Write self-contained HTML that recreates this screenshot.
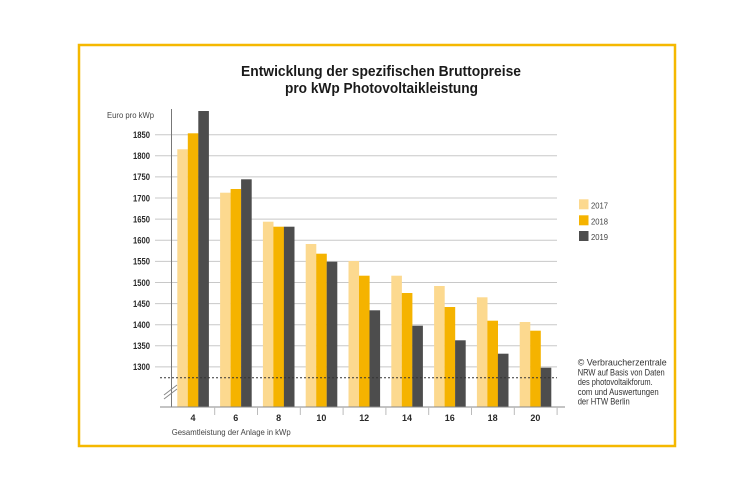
<!DOCTYPE html>
<html><head><meta charset="utf-8"><style>
html,body{margin:0;padding:0;background:#fff;}
svg{display:block;}
text{font-family:"Liberation Sans",sans-serif;}
</style></head><body>
<svg width="750" height="482" viewBox="0 0 750 482" xmlns="http://www.w3.org/2000/svg">
<rect x="0" y="0" width="750" height="482" fill="#fff"/>
<rect x="79" y="45" width="596" height="401" fill="none" stroke="#f5b800" stroke-width="2.5"/>
<text x="381" y="76" text-anchor="middle" font-size="15" font-weight="bold" fill="#1a1a1a" textLength="280" lengthAdjust="spacingAndGlyphs">Entwicklung der spezifischen Bruttopreise</text>
<text x="381.5" y="93" text-anchor="middle" font-size="15" font-weight="bold" fill="#1a1a1a" textLength="193" lengthAdjust="spacingAndGlyphs">pro kWp Photovoltaikleistung</text>
<text x="107" y="118" font-size="8" fill="#444" textLength="47" lengthAdjust="spacingAndGlyphs">Euro pro kWp</text>
<g stroke="#c8c8c8" stroke-width="1">
<line x1="155" y1="134.7" x2="557" y2="134.7"/>
<line x1="155" y1="155.8" x2="557" y2="155.8"/>
<line x1="155" y1="176.9" x2="557" y2="176.9"/>
<line x1="155" y1="198.0" x2="557" y2="198.0"/>
<line x1="155" y1="219.1" x2="557" y2="219.1"/>
<line x1="155" y1="240.3" x2="557" y2="240.3"/>
<line x1="155" y1="261.4" x2="557" y2="261.4"/>
<line x1="155" y1="282.5" x2="557" y2="282.5"/>
<line x1="155" y1="303.6" x2="557" y2="303.6"/>
<line x1="155" y1="324.7" x2="557" y2="324.7"/>
<line x1="155" y1="345.8" x2="557" y2="345.8"/>
<line x1="155" y1="366.9" x2="557" y2="366.9"/>
</g>
<g font-size="9" font-weight="bold" fill="#2a2a2a" text-anchor="end">
<text x="150" y="138" textLength="17" lengthAdjust="spacingAndGlyphs">1850</text>
<text x="150" y="159.1" textLength="17" lengthAdjust="spacingAndGlyphs">1800</text>
<text x="150" y="180.2" textLength="17" lengthAdjust="spacingAndGlyphs">1750</text>
<text x="150" y="201.3" textLength="17" lengthAdjust="spacingAndGlyphs">1700</text>
<text x="150" y="222.4" textLength="17" lengthAdjust="spacingAndGlyphs">1650</text>
<text x="150" y="243.6" textLength="17" lengthAdjust="spacingAndGlyphs">1600</text>
<text x="150" y="264.7" textLength="17" lengthAdjust="spacingAndGlyphs">1550</text>
<text x="150" y="285.8" textLength="17" lengthAdjust="spacingAndGlyphs">1500</text>
<text x="150" y="306.9" textLength="17" lengthAdjust="spacingAndGlyphs">1450</text>
<text x="150" y="328.0" textLength="17" lengthAdjust="spacingAndGlyphs">1400</text>
<text x="150" y="349.1" textLength="17" lengthAdjust="spacingAndGlyphs">1350</text>
<text x="150" y="370.2" textLength="17" lengthAdjust="spacingAndGlyphs">1300</text>
</g>
<!-- bars -->
<g>
<rect x="177.3" y="149.3" width="10.6" height="257.7" fill="#fcd98f"/>
<rect x="187.8" y="133.3" width="10.6" height="273.7" fill="#f5b300"/>
<rect x="198.3" y="111" width="10.6" height="296" fill="#4d4d4d"/>

<rect x="220.1" y="192.7" width="10.6" height="214.3" fill="#fcd98f"/>
<rect x="230.6" y="189" width="10.6" height="218" fill="#f5b300"/>
<rect x="241.1" y="179.3" width="10.6" height="227.7" fill="#4d4d4d"/>

<rect x="262.9" y="221.7" width="10.6" height="185.3" fill="#fcd98f"/>
<rect x="273.4" y="226.7" width="10.6" height="180.3" fill="#f5b300"/>
<rect x="283.9" y="226.7" width="10.6" height="180.3" fill="#4d4d4d"/>

<rect x="305.7" y="244" width="10.6" height="163" fill="#fcd98f"/>
<rect x="316.2" y="253.7" width="10.6" height="153.3" fill="#f5b300"/>
<rect x="326.7" y="261.7" width="10.6" height="145.3" fill="#4d4d4d"/>

<rect x="348.5" y="261" width="10.6" height="146" fill="#fcd98f"/>
<rect x="359" y="275.7" width="10.6" height="131.3" fill="#f5b300"/>
<rect x="369.5" y="310.3" width="10.6" height="96.7" fill="#4d4d4d"/>

<rect x="391.3" y="275.7" width="10.6" height="131.3" fill="#fcd98f"/>
<rect x="401.8" y="293" width="10.6" height="114" fill="#f5b300"/>
<rect x="412.3" y="325.7" width="10.6" height="81.3" fill="#4d4d4d"/>

<rect x="434.1" y="286" width="10.6" height="121" fill="#fcd98f"/>
<rect x="444.6" y="307" width="10.6" height="100" fill="#f5b300"/>
<rect x="455.1" y="340.3" width="10.6" height="66.7" fill="#4d4d4d"/>

<rect x="476.9" y="297.3" width="10.6" height="109.7" fill="#fcd98f"/>
<rect x="487.4" y="320.7" width="10.6" height="86.3" fill="#f5b300"/>
<rect x="497.9" y="353.7" width="10.6" height="53.3" fill="#4d4d4d"/>

<rect x="519.7" y="322" width="10.6" height="85" fill="#fcd98f"/>
<rect x="530.2" y="330.7" width="10.6" height="76.3" fill="#f5b300"/>
<rect x="540.7" y="367.7" width="10.6" height="39.3" fill="#4d4d4d"/>
</g>
<line x1="160" y1="377.7" x2="557" y2="377.7" stroke="#333" stroke-width="1" stroke-dasharray="2,2"/>
<line x1="171.5" y1="109" x2="171.5" y2="407" stroke="#777" stroke-width="1"/>
<line x1="160" y1="407" x2="565" y2="407" stroke="#888" stroke-width="1"/>
<g stroke="#888" stroke-width="1">
<line x1="164" y1="395" x2="177" y2="385"/>
<line x1="164" y1="399" x2="177" y2="389"/>
</g>
<g stroke="#bbb" stroke-width="1">
<line x1="214.7" y1="407" x2="214.7" y2="415"/>
<line x1="257.5" y1="407" x2="257.5" y2="415"/>
<line x1="300.3" y1="407" x2="300.3" y2="415"/>
<line x1="343.1" y1="407" x2="343.1" y2="415"/>
<line x1="385.9" y1="407" x2="385.9" y2="415"/>
<line x1="428.7" y1="407" x2="428.7" y2="415"/>
<line x1="471.5" y1="407" x2="471.5" y2="415"/>
<line x1="514.3" y1="407" x2="514.3" y2="415"/>
<line x1="557.1" y1="407" x2="557.1" y2="415"/>
</g>
<g font-size="9" font-weight="bold" fill="#2a2a2a" text-anchor="middle">
<text x="193" y="421">4</text>
<text x="235.8" y="421">6</text>
<text x="278.6" y="421">8</text>
<text x="321.4" y="421" textLength="10" lengthAdjust="spacingAndGlyphs">10</text>
<text x="364.2" y="421" textLength="10" lengthAdjust="spacingAndGlyphs">12</text>
<text x="407" y="421" textLength="10" lengthAdjust="spacingAndGlyphs">14</text>
<text x="449.8" y="421" textLength="10" lengthAdjust="spacingAndGlyphs">16</text>
<text x="492.6" y="421" textLength="10" lengthAdjust="spacingAndGlyphs">18</text>
<text x="535.4" y="421" textLength="10" lengthAdjust="spacingAndGlyphs">20</text>
</g>
<text x="171.7" y="435" font-size="8.5" fill="#444" textLength="119" lengthAdjust="spacingAndGlyphs">Gesamtleistung der Anlage in kWp</text>
<!-- legend -->
<rect x="579" y="199.3" width="9.5" height="10" fill="#fcd98f"/>
<rect x="579" y="215.3" width="9.5" height="10" fill="#f5b300"/>
<rect x="579" y="231" width="9.5" height="10" fill="#4d4d4d"/>
<g font-size="8.5" fill="#444" style="font-family:'Liberation Serif',serif">
<text x="591" y="208.5" textLength="17" lengthAdjust="spacingAndGlyphs">2017</text>
<text x="591" y="224.5" textLength="17" lengthAdjust="spacingAndGlyphs">2018</text>
<text x="591" y="240" textLength="17" lengthAdjust="spacingAndGlyphs">2019</text>
</g>
<g font-size="9" fill="#333">
<text x="577.7" y="365.5" textLength="89" lengthAdjust="spacingAndGlyphs">© Verbraucherzentrale</text>
<text x="577.7" y="375.5" textLength="87" lengthAdjust="spacingAndGlyphs">NRW auf Basis von Daten</text>
<text x="577.7" y="385" textLength="75" lengthAdjust="spacingAndGlyphs">des photovoltaikforum.</text>
<text x="577.7" y="395" textLength="81" lengthAdjust="spacingAndGlyphs">com und Auswertungen</text>
<text x="577.7" y="404.5" textLength="52" lengthAdjust="spacingAndGlyphs">der HTW Berlin</text>
</g>
</svg>
</body></html>
